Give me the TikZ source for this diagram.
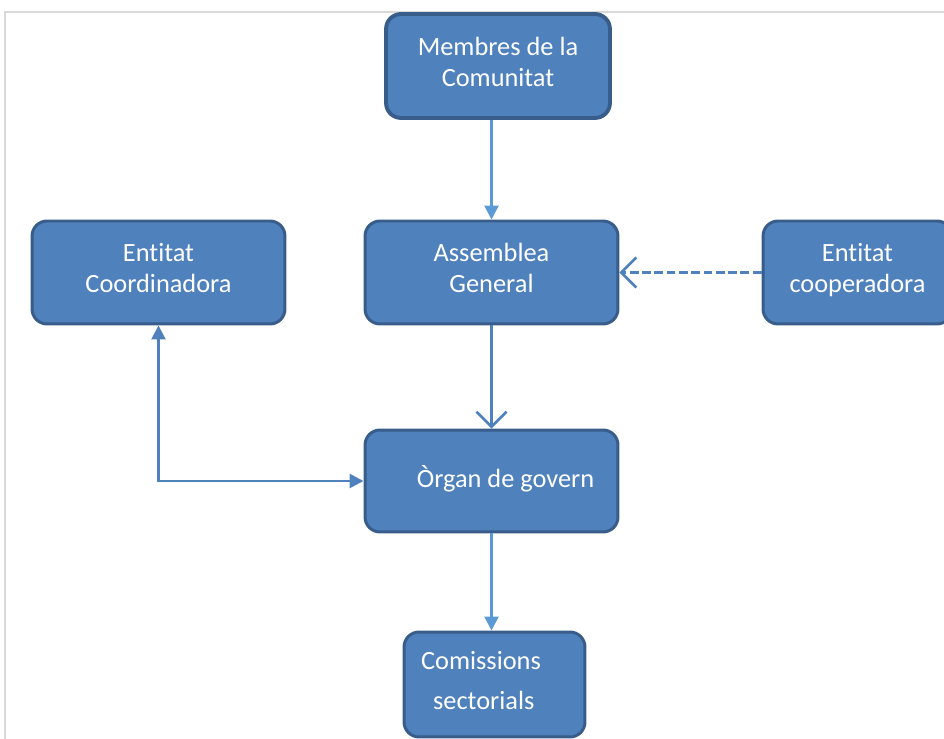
\documentclass[tikz,border=0pt]{standalone}
\usepackage{fontspec}
\setmainfont[Ligatures=NoCommon]{Carlito}
\usetikzlibrary{arrows.meta,calc}

\definecolor{boxfill}{HTML}{4F81BD}
\definecolor{boxline}{HTML}{385D8A}
\definecolor{arrlight}{HTML}{5B9BD5}
\definecolor{arrdark}{HTML}{4F81BD}
\definecolor{framegray}{HTML}{D9D9D9}

\tikzset{
  orgbox/.style={draw=boxline,fill=boxfill,line width=1.7pt,rounded corners=0.3cm,
    text=white,align=center,inner sep=0pt,text depth=0.17cm,
    font=\fontsize{15}{17.6}\selectfont},
  fillarrow/.style={line width=1.5pt,-{Triangle[length=0.28cm,width=0.28cm]}},
  openarrow/.style={line width=1.5pt,-{Straight Barb[length=0.3cm,width=0.6cm,line width=1.5pt]}}
}

\begin{document}
\begin{tikzpicture}[x=0.02cm,y=-0.02cm]
      \useasboundingbox (0,0) rectangle (944,739);
      % frame
      \draw[framegray,line width=1.2pt] (5,739) -- (5,12) -- (944,12);
      % boxes
      \node[orgbox,minimum width=4.48cm,minimum height=2.08cm,line width=2.2pt] (memb) at (498,66) {Membres de la\\Comunitat};
      \node[orgbox,minimum width=5.06cm,minimum height=2.06cm] (asm) at (491.5,272.5) {Assemblea\\General};
      \node[orgbox,minimum width=5.06cm,minimum height=2.06cm] (coord) at (158.5,272.5) {Entitat\\Coordinadora};
      \node[orgbox,minimum width=3.78cm,minimum height=2.06cm] (coop) at (857.5,272.5) {Entitat\\cooperadora};
      \node[orgbox,minimum width=5.06cm,minimum height=2.04cm] (organ) at (491.5,481) {\hspace*{0.56cm}Òrgan de govern};
      \node[orgbox,minimum width=3.62cm,minimum height=2.1cm,align=left] (com) at (494.5,684.5)
        {Comissions\hspace*{0.54cm}\\[5.5pt]\hspace*{0.24cm}sectorials};
      % connectors
      \draw[fillarrow,arrlight] (asm.north |- memb.south) -- (asm.north);
      \draw[openarrow,arrdark] (asm.south) -- (organ.north);
      \draw[openarrow,arrdark,dashed,dash pattern=on 5pt off 2pt] (coop.west) -- (asm.east);
      \draw[line width=1.5pt,arrdark,{Triangle[length=0.28cm,width=0.28cm]}-{Triangle[length=0.28cm,width=0.28cm]}]
        (coord.south) |- (organ.west);
      \draw[fillarrow,arrlight] (organ.south) -- (organ.south |- com.north);
\end{tikzpicture}
\end{document}
